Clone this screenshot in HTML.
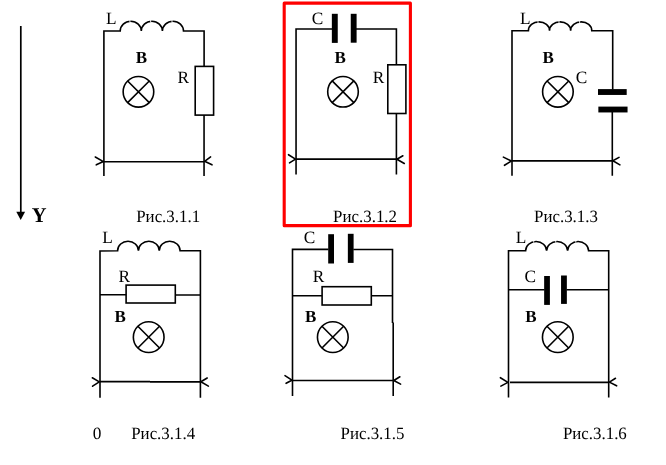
<!DOCTYPE html>
<html>
<head>
<meta charset="utf-8">
<style>
html,body{margin:0;padding:0;background:#fff;}
body{width:666px;height:465px;overflow:hidden;font-family:"Liberation Serif",serif;}
svg{display:block;position:absolute;left:0;top:0;will-change:transform;transform:translateZ(0);filter:blur(0.35px);}
text{font-family:"Liberation Serif",serif;font-size:17.3px;fill:#000;stroke:none;text-rendering:geometricPrecision;}
.b{font-weight:bold;font-size:17px;}
.lab{font-size:17.3px;}
.w{stroke:#000;stroke-width:1.6;fill:none;stroke-linecap:butt;stroke-linejoin:miter;}
.v{stroke:#000;stroke-width:1.6;fill:none;stroke-linecap:butt;stroke-linejoin:miter;}
.ar{stroke-linecap:round;stroke-linejoin:round;}
.p{fill:#000;stroke:none;}
</style>
</head>
<body>
<svg width="666" height="465" viewBox="0 0 666 465">
<rect x="0" y="0" width="666" height="465" fill="#fff"/>

<!-- Y axis arrow -->
<line class="w" x1="20.8" y1="26" x2="20.8" y2="213" style="stroke-width:1.7"/>
<polygon class="p" points="16.3,211.8 25.1,211.8 20.7,220"/>
<text class="b" transform="translate(31.8,221.8) scale(0.975,1)" style="font-size:21px">Y</text>

<!-- red highlight box -->
<rect x="284.2" y="3.15" width="126.2" height="222.5" fill="none" stroke="#fe0000" stroke-width="3.1" stroke-linejoin="round"/>
<!-- ===== Circuit 1 ===== -->
<path class="w" d="M103.9,175.9 V31 H120.2 a10.55,9.8 0 0 1 21.10,0 a10.55,9.8 0 0 1 21.10,0 a10.55,9.8 0 0 1 21.10,0 H204.1 V66.4 M204.05,115.1 V175.9 M103.9,161.7 H204.1"/>
<rect x="129.35" y="19.90" width="1.1" height="2.6" fill="#fff" opacity="0.8"/>
<rect x="150.05" y="19.90" width="1.1" height="2.6" fill="#fff" opacity="0.8"/>
<rect x="171.45" y="19.90" width="1.1" height="2.6" fill="#fff" opacity="0.8"/>
<rect class="w" x="195.2" y="66.4" width="18.4" height="48.7"/>
<path class="w ar" d="M95.3,157.0 L103.4,161.6 L96.3,164.8 M210.6,156.9 L204.6,161.3 L212.0,164.8"/>
<circle class="w" cx="138.45" cy="91.8" r="15.3"/>
<path class="w" d="M127.63,80.98 L149.27,102.62 M149.27,80.98 L127.63,102.62"/>
<text transform="translate(105.9,23.7) scale(1,1)">L</text>
<text class="b" transform="translate(135.65,63.4) scale(1,1)">B</text>
<text transform="translate(177.4,82.8) scale(1,1)">R</text>
<text class="lab" transform="translate(136.2,222.0) scale(0.977,1)">Рис.3.1.1</text>
<!-- ===== Circuit 2 ===== -->
<path class="w" d="M296.05,174.4 V29 H332.5 M356,29 H396.4 V64.8 M396.4,113.5 V174.4 M296.05,159.15 H396.4"/>
<rect class="p" x="331.85" y="13.8" width="5.9" height="29.1"/>
<rect class="p" x="350.75" y="13.8" width="5.85" height="28.9"/>
<rect class="w" x="387.8" y="64.8" width="18.1" height="48.7"/>
<path class="w ar" d="M288.5,154.7 L295.5,159.1 L289.5,162.9 M402.9,155.8 L396.9,159.2 L404.3,163.5"/>
<circle class="w" cx="343.0" cy="91.75" r="15.3"/>
<path class="w" d="M332.18,80.93 L353.82,102.57 M353.82,80.93 L332.18,102.57"/>
<text transform="translate(311.7,23.7) scale(1,1)">C</text>
<text class="b" transform="translate(334.6,63.4) scale(1,1)">B</text>
<text transform="translate(372.8,82.8) scale(1,1)">R</text>
<text class="lab" transform="translate(333.1,222.0) scale(0.977,1)">Рис.3.1.2</text>
<!-- ===== Circuit 3 ===== -->
<path class="w" d="M512,175.7 V30.7 H528.4 a10.56,8.8 0 0 1 21.13,0 a10.56,8.8 0 0 1 21.13,0 a10.56,8.8 0 0 1 21.13,0 H612.7 V89.5 M612.3,112 V175.7 M512,160.9 H612.3"/>
<rect x="537.45" y="20.60" width="1.1" height="2.6" fill="#fff" opacity="0.8"/>
<rect x="558.45" y="20.60" width="1.1" height="2.6" fill="#fff" opacity="0.8"/>
<rect x="579.05" y="20.60" width="1.1" height="2.6" fill="#fff" opacity="0.8"/>
<rect class="p" x="598" y="89.1" width="28.7" height="5.85"/>
<rect class="p" x="598.35" y="106.6" width="29.2" height="5.85"/>
<path class="w ar" d="M503.4,157.1 L511.3,161.0 L504.5,165.3 M619.0,157.4 L612.9,160.8 L619.9,164.9"/>
<circle class="w" cx="557.9" cy="91.85" r="15.3"/>
<path class="w" d="M547.08,81.03 L568.72,102.67 M568.72,81.03 L547.08,102.67"/>
<text transform="translate(520.0,23.7) scale(1,1)">L</text>
<text class="b" transform="translate(542.5,63.4) scale(1,1)">B</text>
<text transform="translate(575.7,82.8) scale(1,1)">C</text>
<text class="lab" transform="translate(534.0,222.0) scale(0.977,1)">Рис.3.1.3</text>
<!-- ===== Circuit 4 ===== -->
<path class="v" d="M100,397.7 V251 L117.6,250.8 a10.41,9.6 0 0 1 20.83,0 a10.41,9.6 0 0 1 20.83,0 a10.41,9.6 0 0 1 20.83,0 H200.4 V397.7 M100,294.8 H126.1 M175.3,295 H200.4 M100,381.6 H150 M150,381.9 H200.5"/>
<rect class="v" x="126.1" y="285.1" width="49.2" height="17.9"/>
<path class="v ar" d="M92.3,377.8 L99.3,381.9 L92.6,386.2 M207.2,378.0 L200.9,381.8 L208.4,386.1"/>
<circle class="v" cx="148.7" cy="337.15" r="15.35"/>
<path class="v" d="M137.85,326.30 L159.55,348.00 M159.55,326.30 L137.85,348.00"/>
<text transform="translate(102.3,242.8) scale(1,1)">L</text>
<text transform="translate(118.6,282.3) scale(1,1)">R</text>
<text class="b" transform="translate(114.6,321.9) scale(1,1)">B</text>
<text transform="translate(92.8,438.8) scale(1,1)">0</text>
<text class="lab" transform="translate(131.2,438.8) scale(0.977,1)">Рис.3.1.4</text>
<!-- ===== Circuit 5 ===== -->
<path class="v" d="M292.5,396.1 V249.4 H328.5 M353.3,249.5 H392.5 V323 M393.2,322.5 V396.1 M292.5,295.7 H322.1 M371.3,295.7 H392.5 M292.5,380.45 H393.2"/>
<rect class="p" x="328.2" y="234.2" width="5.8" height="29.3"/>
<rect class="p" x="347.85" y="233.8" width="5.75" height="29.1"/>
<rect class="v" x="322.1" y="286.7" width="49.2" height="18.3"/>
<path class="v ar" d="M285.0,375.6 L291.9,380.2 L286.1,383.3 M399.9,376.8 L393.8,380.45 L400.6,384.1"/>
<circle class="v" cx="332.8" cy="337.15" r="15.35"/>
<path class="v" d="M321.95,326.30 L343.65,348.00 M343.65,326.30 L321.95,348.00"/>
<text transform="translate(303.7,242.8) scale(1,1)">C</text>
<text transform="translate(312.8,282.3) scale(1,1)">R</text>
<text class="b" transform="translate(304.9,321.7) scale(1,1)">B</text>
<text class="lab" transform="translate(340.5,438.8) scale(0.977,1)">Рис.3.1.5</text>
<!-- ===== Circuit 6 ===== -->
<path class="v" d="M508.5,397.6 V250.8 H525.6 a10.50,9.3 0 0 1 21.00,0 a10.50,9.3 0 0 1 21.00,0 a10.50,9.3 0 0 1 21.00,0 H608.7 V397.6 M508.5,289.7 H544.5 M566.5,289.7 H608.7 M510,382.4 H608.7"/>
<rect x="533.15" y="240.20" width="1.1" height="2.6" fill="#fff" opacity="0.8"/>
<rect x="555.15" y="240.20" width="1.1" height="2.6" fill="#fff" opacity="0.8"/>
<rect x="575.25" y="240.20" width="1.1" height="2.6" fill="#fff" opacity="0.8"/>
<rect class="p" x="544.15" y="276" width="5.75" height="28.9"/>
<rect class="p" x="561.05" y="275.5" width="5.8" height="28.4"/>
<path class="v ar" d="M500.4,377.7 L507.9,382.4 L500.9,386.1 M615.5,378.3 L609.4,382.1 L616.6,385.8"/>
<circle class="v" cx="557.8" cy="337.15" r="15.35"/>
<path class="v" d="M546.95,326.30 L568.65,348.00 M568.65,326.30 L546.95,348.00"/>
<text transform="translate(515.8,242.8) scale(1,1)">L</text>
<text transform="translate(524.4,282.3) scale(1,1)">C</text>
<text class="b" transform="translate(525.3,321.7) scale(1,1)">B</text>
<text class="lab" transform="translate(562.9,438.8) scale(0.977,1)">Рис.3.1.6</text>
</svg>
</body>
</html>
